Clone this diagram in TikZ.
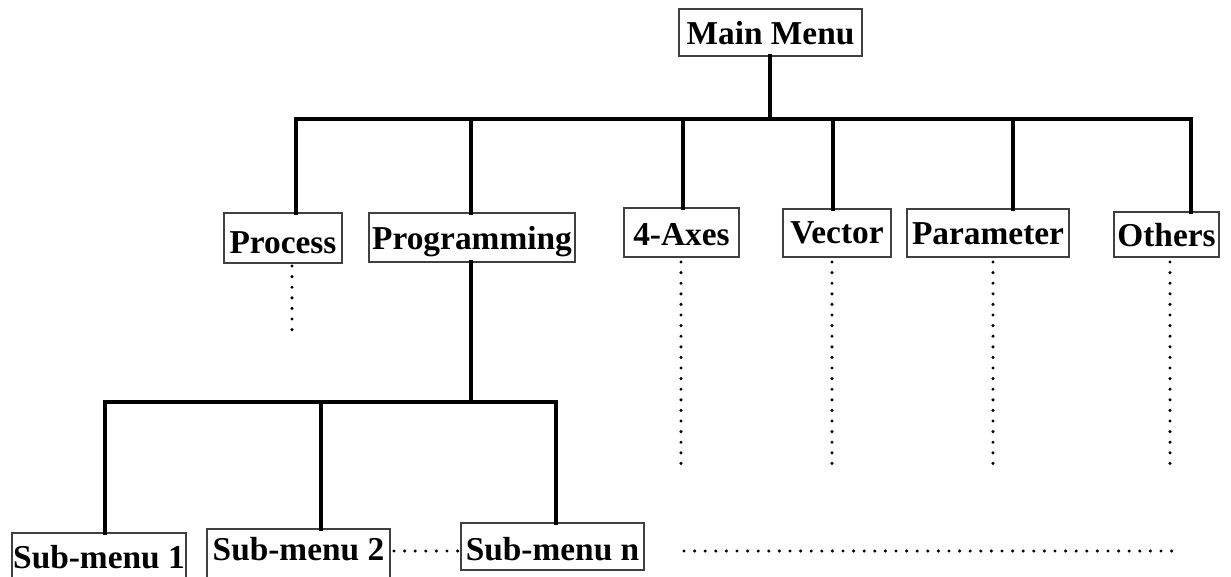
\documentclass[tikz,border=0pt]{standalone}
\usepackage{fontspec}
\setmainfont{Liberation Serif}
\newdimen\pxu
\pxu=0.02cm
\definecolor{boxline}{gray}{0.25}
\tikzset{
  menubox/.style={draw=boxline, line width=1.6\pxu, inner sep=0pt, outer sep=0pt,
    anchor=north west, font=\bfseries\fontsize{19}{22}\selectfont},
  link/.style={line width=3.2\pxu, line join=miter, line cap=rect},
  dots/.style={line width=3.4\pxu, line cap=round, dash pattern=on 0pt off 10.6\pxu},
}
\begin{document}
\begin{tikzpicture}[x=\pxu, y=-\pxu]
  \useasboundingbox (0,0) rectangle (1231,576);
  \clip (0,0) rectangle (1231,576);

  % top level
  \node[menubox, minimum width=183\pxu, text height=35\pxu, text depth=12\pxu] (main) at (679,9) {Main Menu};

  % second level
  \node[menubox, minimum width=118\pxu, text height=40\pxu, text depth=10\pxu] (proc)  at (224,213) {Process};
  \node[menubox, minimum width=206\pxu, text height=36\pxu, text depth=13\pxu] (prog)  at (369,213) {Programming};
  \node[menubox, minimum width=115\pxu, text height=37\pxu, text depth=12\pxu] (axes)  at (624,208) {4-Axes};
  \node[menubox, minimum width=108\pxu, text height=34\pxu, text depth=14\pxu] (vect)  at (783,209) {Vector};
  \node[menubox, minimum width=162\pxu, text height=35\pxu, text depth=13\pxu] (param) at (907,209) {Parameter};
  \node[menubox, minimum width=105\pxu, text height=34\pxu, text depth=11\pxu] (other) at (1114,212) {Others};

  % sub-menus of Programming
  \node[menubox, minimum width=174\pxu, text height=35\pxu, text depth=30\pxu] (sub1) at (12,533)  {Sub-menu 1};
  \node[menubox, minimum width=183\pxu, text height=31\pxu, text depth=30\pxu] (sub2) at (207,529) {Sub-menu 2};
  \node[menubox, minimum width=183\pxu, text height=37\pxu, text depth=10\pxu] (subn) at (461,523) {Sub-menu n};

  % junctions on the main bus
  \coordinate (bus)    at (770,119);
  \coordinate (jproc)  at (296,119);
  \coordinate (jprog)  at (471,119);
  \coordinate (jaxes)  at (683,119);
  \coordinate (jvect)  at (833,119);
  \coordinate (jparam) at (1013,119);
  \coordinate (jother) at (1191,119);

  \draw[link] (main.south -| bus) -- (bus);
  \draw[link] (jproc |- proc.north) -- (jproc) -- (jother) -- (jother |- other.north);
  \draw[link] (jprog)  -- (jprog |- prog.north);
  \draw[link] (jaxes)  -- (jaxes |- axes.north);
  \draw[link] (jvect)  -- (jvect |- vect.north);
  \draw[link] (jparam) -- (jparam |- param.north);

  % sub bus under Programming
  \coordinate (sbus) at (471,402);
  \coordinate (js1)  at (105,402);
  \coordinate (js2)  at (321,402);
  \coordinate (jsn)  at (556,402);
  \draw[link] (prog.south -| sbus) -- (sbus);
  \draw[link] (js1 |- sub1.north) -- (js1) -- (jsn) -- (jsn |- subn.north);
  \draw[link] (js2) -- (js2 |- sub2.north);

  % continuation dots
  \coordinate (eproc)  at (292,330);
  \coordinate (eaxes)  at (681,468);
  \coordinate (evect)  at (832,468);
  \coordinate (eparam) at (993,468);
  \coordinate (eother) at (1170,468);
  \draw[dots] ([yshift=-3\pxu]eproc  |- proc.south)  -- (eproc);
  \draw[dots] ([yshift=-5\pxu]eaxes  |- axes.south)  -- (eaxes);
  \draw[dots] ([yshift=-5\pxu]evect  |- vect.south)  -- (evect);
  \draw[dots] ([yshift=-5\pxu]eparam |- param.south) -- (eparam);
  \draw[dots] ([yshift=-5\pxu]eother |- other.south) -- (eother);

  \coordinate (dl) at (0,551);
  \draw[dots] ([xshift=4\pxu]sub2.east |- dl) -- ([xshift=-3\pxu]subn.west |- dl);
  \coordinate (rowa) at (684,551);
  \coordinate (rowb) at (1174,551);
  \draw[dots] (rowa) -- (rowb);
\end{tikzpicture}
\end{document}
